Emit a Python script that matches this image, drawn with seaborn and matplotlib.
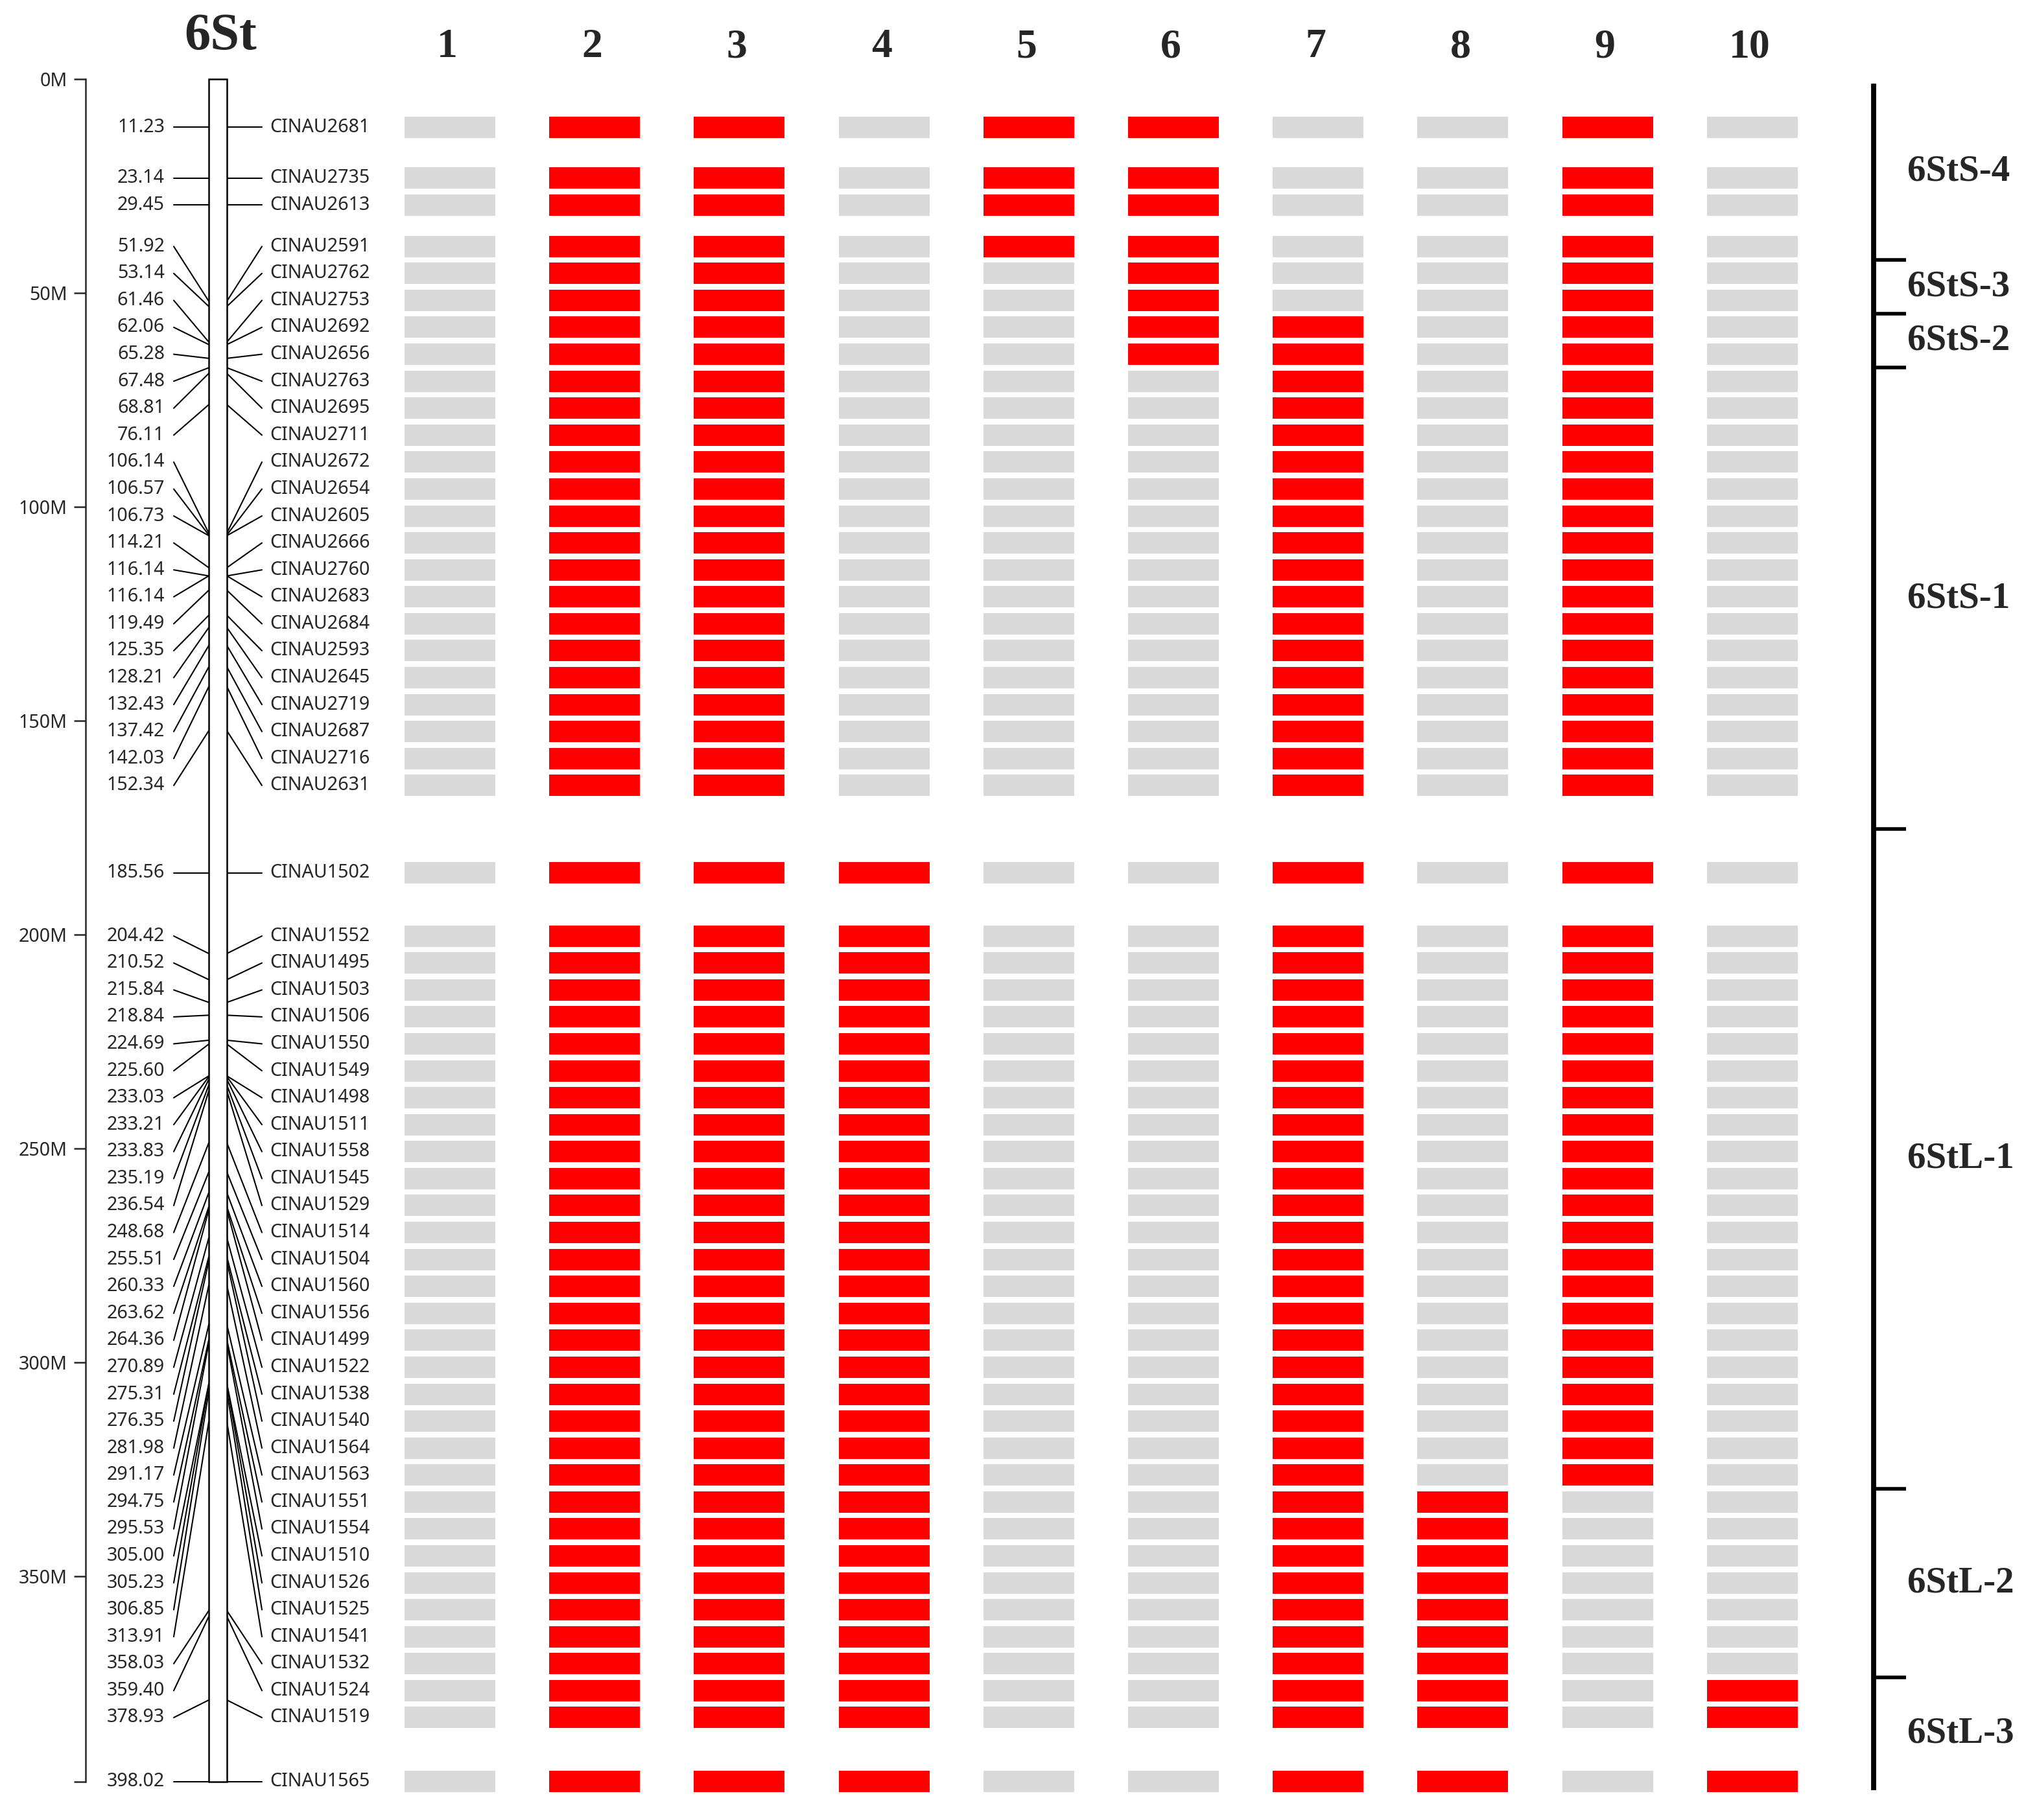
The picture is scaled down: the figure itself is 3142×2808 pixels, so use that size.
import numpy as np
import pandas as pd
import matplotlib
matplotlib.use("Agg")
import matplotlib.pyplot as plt
import matplotlib.transforms as mtransforms
import seaborn as sns

# ---- data ----
chromosome = "6St"
chrom_length = 398.02

markers = [
    "CINAU2681", "CINAU2735", "CINAU2613", "CINAU2591", "CINAU2762", "CINAU2753",
    "CINAU2692", "CINAU2656", "CINAU2763", "CINAU2695", "CINAU2711", "CINAU2672",
    "CINAU2654", "CINAU2605", "CINAU2666", "CINAU2760", "CINAU2683", "CINAU2684",
    "CINAU2593", "CINAU2645", "CINAU2719", "CINAU2687", "CINAU2716", "CINAU2631",
    "CINAU1502", "CINAU1552", "CINAU1495", "CINAU1503", "CINAU1506", "CINAU1550",
    "CINAU1549", "CINAU1498", "CINAU1511", "CINAU1558", "CINAU1545", "CINAU1529",
    "CINAU1514", "CINAU1504", "CINAU1560", "CINAU1556", "CINAU1499", "CINAU1522",
    "CINAU1538", "CINAU1540", "CINAU1564", "CINAU1563", "CINAU1551", "CINAU1554",
    "CINAU1510", "CINAU1526", "CINAU1525", "CINAU1541", "CINAU1532", "CINAU1524",
    "CINAU1519", "CINAU1565",
]
positions = [
    11.23, 23.14, 29.45, 51.92, 53.14, 61.46, 62.06, 65.28, 67.48, 68.81, 76.11,
    106.14, 106.57, 106.73, 114.21, 116.14, 116.14, 119.49, 125.35, 128.21, 132.43,
    137.42, 142.03, 152.34, 185.56, 204.42, 210.52, 215.84, 218.84, 224.69, 225.60,
    233.03, 233.21, 233.83, 235.19, 236.54, 248.68, 255.51, 260.33, 263.62, 264.36,
    270.89, 275.31, 276.35, 281.98, 291.17, 294.75, 295.53, 305.00, 305.23, 306.85,
    313.91, 358.03, 359.40, 378.93, 398.02,
]

lines = ["1", "2", "3", "4", "5", "6", "7", "8", "9", "10"]
segments = ["6StS-4", "6StS-3", "6StS-2", "6StS-1", "6StL-1", "6StL-2", "6StL-3"]
segment_sizes = [4, 2, 2, 16, 22, 7, 3]   # markers in each segment, top to bottom

# presence of each segment in each line (rows = lines, cols = segments)
presence = [
    [0, 0, 0, 0, 0, 0, 0],
    [1, 1, 1, 1, 1, 1, 1],
    [1, 1, 1, 1, 1, 1, 1],
    [0, 0, 0, 0, 1, 1, 1],
    [1, 0, 0, 0, 0, 0, 0],
    [1, 1, 1, 0, 0, 0, 0],
    [0, 0, 1, 1, 1, 1, 1],
    [0, 0, 0, 0, 0, 1, 1],
    [1, 1, 1, 1, 1, 0, 0],
    [0, 0, 0, 0, 0, 0, 1],
]

# ---- layout (canvas units, y in Mb) ----
W, H = 1571, 1404
Y_TOP, MB_PX = 61, 3.3
LABEL_GAP, PIN_GAP = 6.3, 15.0
SCALE_X = 66
CHROM_X, CHROM_W = 168, 14
POS_TXT_X, LINK_L, LINK_R, NAME_X = 127, 134, 202, 208
COL0, COL_STEP, BAR_W, BAR_H = 347, 111.6, 70, 5.0
BRACKET_X, TICK_LEN, SEG_TXT_X = 1445, 25, 1471

RED, GREY = "#fe0000", "#d9d9d9"


def spread_labels(pos, gap, pin_gap):
    # isolated labels stay on their marker; crowded runs are spread into
    # evenly spaced blocks centred on their span, kept clear of pinned labels
    pos = np.asarray(pos, dtype=float)
    d = np.diff(pos)
    pinned = np.r_[True, d >= pin_gap] & np.r_[d >= pin_gap, True]
    blocks, starts = [], []

    def is_pin(b):
        return b[0] == b[1] and pinned[b[0]]

    def fit(k):
        f, l = blocks[k]
        if is_pin(blocks[k]):
            return pos[f]
        s = (pos[f] + pos[l]) / 2 - gap * (l - f) / 2
        if k > 0 and is_pin(blocks[k - 1]):
            s = max(s, pos[blocks[k - 1][0]] + 2 * gap)
        return s

    for i in range(len(pos)):
        blocks.append([i, i])
        starts.append(fit(len(blocks) - 1))
        while len(blocks) > 1:
            a, b = blocks[-2], blocks[-1]
            clear = 2 * gap if (is_pin(a) or is_pin(b)) else gap
            if starts[-1] >= starts[-2] + gap * (a[1] - a[0]) + clear - 1e-9:
                break
            blocks[-2:] = [[a[0], b[1]]]
            starts.pop()
            starts[-1] = fit(len(blocks) - 1)

    out = np.empty(len(pos))
    for (f, l), s in zip(blocks, starts):
        out[f:l + 1] = s + gap * np.arange(l - f + 1)
    return out


sns.set_theme(style="white")
label_font = ["Noto Sans", "DejaVu Sans"]
serif_font = ["Liberation Serif", "DejaVu Serif"]
plt.rcParams["font.family"] = label_font

rows = spread_labels(positions, LABEL_GAP, PIN_GAP)
seg_index = np.repeat(np.arange(len(segments)), segment_sizes)

fig = plt.figure(figsize=(W / 100, H / 100), dpi=200)
ax = fig.add_axes([0, 0, 1, 1])

# connectors from labels to chromosome
link = []
for i, (p, r) in enumerate(zip(positions, rows)):
    link.append({"x": LINK_L, "y": r, "seg": 2 * i})
    link.append({"x": CHROM_X - CHROM_W / 2, "y": p, "seg": 2 * i})
    link.append({"x": CHROM_X + CHROM_W / 2, "y": p, "seg": 2 * i + 1})
    link.append({"x": LINK_R, "y": r, "seg": 2 * i + 1})
link = pd.DataFrame(link)
sns.lineplot(data=link, x="x", y="y", units="seg", estimator=None, sort=False,
             color="black", lw=0.75, ax=ax)

# chromosome body
ax.bar(CHROM_X, chrom_length, bottom=0, width=CHROM_W, color="white",
       edgecolor="black", linewidth=0.9, zorder=3)

for p, r, name in zip(positions, rows, markers):
    ax.text(POS_TXT_X, r, f"{p:.2f}", ha="right", va="center", fontsize=10.3)
    ax.text(NAME_X, r, name, ha="left", va="center", fontsize=10.3)

# genotype bars
for k, line in enumerate(lines):
    cx = COL0 + k * COL_STEP
    colors = [RED if presence[k][s] else GREY for s in seg_index]
    ax.barh(rows, BAR_W, left=cx - BAR_W / 2, height=BAR_H, color=colors, linewidth=0)

hdr = mtransforms.blended_transform_factory(ax.transData, ax.transAxes)
for k, line in enumerate(lines):
    ax.text(COL0 + k * COL_STEP - 2, 0.974, line, transform=hdr, ha="center", va="center",
            fontsize=23, fontweight="bold", family=serif_font)
ax.text(CHROM_X + 2, 0.980, chromosome, transform=hdr, ha="center", va="center",
        fontsize=29, fontweight="bold", family=serif_font)

# segment bracket
ends = np.cumsum(segment_sizes)
bounds = [(rows[e - 1] + rows[e]) / 2 for e in ends[:-1]]
edges = [1.0] + bounds + [chrom_length + 2]
ax.vlines(BRACKET_X, edges[0], edges[-1], color="black", lw=2.8)
ax.hlines(bounds, BRACKET_X, BRACKET_X + TICK_LEN, color="black", lw=2.0)
for s, name in enumerate(segments):
    ax.text(SEG_TXT_X, (edges[s] + edges[s + 1]) / 2, name, ha="left", va="center",
            fontsize=20.5, fontweight="bold", family=serif_font)

# physical scale on the left spine
ax.set_xlim(0, W)
ax.set_ylim((H - Y_TOP) / MB_PX, -Y_TOP / MB_PX)
for side in ["top", "right", "bottom"]:
    ax.spines[side].set_visible(False)
ax.spines["left"].set_position(("data", SCALE_X))
ax.spines["left"].set_bounds(0, chrom_length)
ax.spines["left"].set_linewidth(0.9)
ticks = list(range(0, 351, 50)) + [chrom_length]
ax.set_yticks(ticks)
ax.set_yticklabels([f"{t}M" for t in range(0, 351, 50)] + [""])
ax.tick_params(axis="y", direction="out", length=6.5, width=0.9, pad=3.6,
               labelsize=10.3, left=True)
ax.tick_params(axis="x", bottom=False, labelbottom=False)
ax.set_xlabel("")
ax.set_ylabel("")
ax.grid(False)

fig.savefig("out.png", dpi=200)
